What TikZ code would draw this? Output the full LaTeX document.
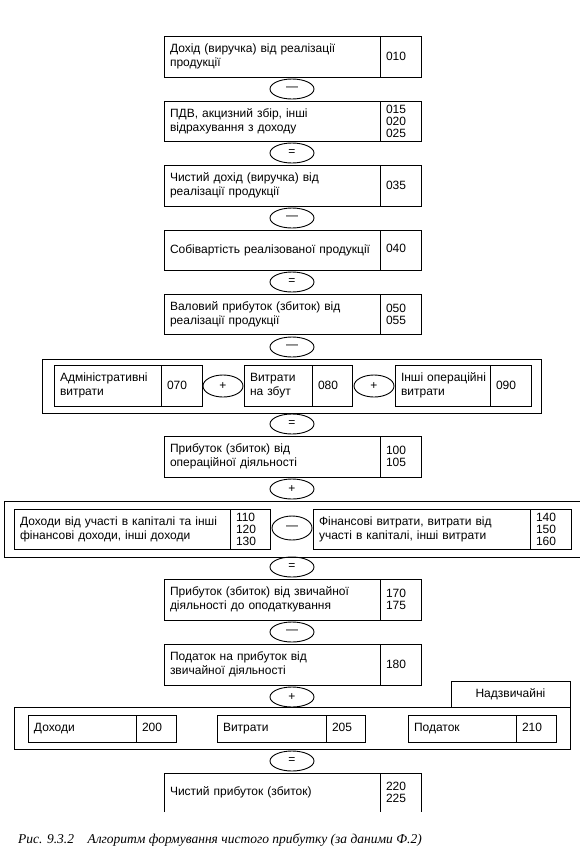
\documentclass[tikz,border=0pt]{standalone}
\usepackage{fontspec}
\setmainfont{Liberation Sans}
\newfontfamily\capfont{Liberation Serif}
\usetikzlibrary{shapes.geometric}
\tikzset{
  cellbox/.style={draw, line width=0.9pt, rectangle, inner xsep=6pt, inner ysep=0pt, outer sep=0pt, align=left, font=\fontsize{12}{14}\selectfont},
  codebox/.style={cellbox, font=\fontsize{12}{12}\selectfont},
  nobox/.style={cellbox, draw=none},
  nocode/.style={codebox, draw=none},
  grp/.style={cellbox},
  op/.style={draw, ellipse, line width=0.9pt, inner sep=0pt, minimum width=44pt, minimum height=20pt, font=\fontsize{12}{13}\selectfont},
  opsmall/.style={op, minimum width=40pt, minimum height=22pt},
  opmid/.style={op, minimum width=40pt, minimum height=24pt},
  side/.style={line width=0.9pt}
}
\newcommand\cell[7]{%
  \pgfmathsetmacro\cw{#5-#3}\pgfmathsetmacro\ch{#6-#4}\pgfmathsetmacro\tw{#5-#3-12}%
  \node[#1, minimum width=\cw pt, minimum height=\ch pt, text width=\tw pt, anchor=north west] (#2) at (#3pt,-#4pt) {#7};}
\newcommand\dph{\vphantom{Д}}
\begin{document}
\begin{tikzpicture}
\useasboundingbox (0,0) rectangle (579pt,-863pt);
% main column
\cell{cellbox}{b1}{164}{36}{380}{77}{Дохід (виручка) від~реалізації\\продукції}
\cell{codebox}{c1}{380}{36}{421}{77}{010}
\node[op] (e1) at (292pt,-89pt) {—};
\cell{cellbox}{b2}{164}{101}{380}{141}{ПДВ, акцизний збір, інші\\відрахування з доходу}
\cell{codebox}{c2}{380}{101}{421}{141}{015\\020\\025}
\node[op] (e2) at (292pt,-153pt) {=};
\cell{cellbox}{b3}{164}{165}{380}{206}{Чистий дохід (виручка) від\\реалізації продукції}
\cell{codebox}{c3}{380}{165}{421}{206}{035}
\node[op] (e3) at (292pt,-218pt) {—};
\cell{cellbox}{b4}{164}{230}{380}{270}{Собівартість~реалізованої~продукції}
\cell{codebox}{c4}{380}{230}{421}{270}{040\dph}
\node[op] (e4) at (292pt,-282pt) {=};
\cell{cellbox}{b5}{164}{294}{380}{334}{Валовий прибуток (збиток) від\\реалізації продукції}
\cell{codebox}{c5}{380}{294}{421}{334}{050\\055}
\node[op] (e5) at (292pt,-347pt) {—};
% group 1
\cell{grp}{g1}{42}{359}{541}{413}{}
\cell{cellbox}{a1}{54}{365}{161}{406}{Адміністративні\\витрати}
\cell{codebox}{a1c}{161}{365}{202}{406}{070}
\node[opsmall] (p1) at (223pt,-386pt) {+};
\cell{cellbox}{a2}{244}{365}{312}{406}{Витрати\\на~збут}
\cell{codebox}{a2c}{312}{365}{352}{406}{080}
\node[opsmall] (p2) at (374pt,-386pt) {+};
\cell{cellbox}{a3}{395}{365}{490}{406}{Інші~операційні\\витрати}
\cell{codebox}{a3c}{490}{365}{531}{406}{090}
\node[op] (e6) at (292pt,-424pt) {=};
\cell{cellbox}{b6}{164}{436}{380}{477}{Прибуток (збиток) від\\операційної діяльності}
\cell{codebox}{c6}{380}{436}{421}{477}{100\\105}
\node[op] (e7) at (292pt,-489pt) {+};
% group 2
\cell{grp}{g2}{4}{501}{582}{557}{}
\cell{cellbox}{f1}{14}{509}{230}{549}{Доходи від участі в капіталі та~інші\\фінансові доходи, інші доходи}
\cell{codebox}{f1c}{230}{509}{270}{549}{110\\120\\130}
\node[opmid] (m1) at (292pt,-528pt) {—};
\cell{cellbox}{f2}{313}{509}{530}{549}{Фінансові витрати, витрати від\\участі в капіталі, інші витрати}
\cell{codebox}{f2c}{530}{509}{571}{549}{140\\150\\160}
\node[op] (e8) at (292pt,-567pt) {=};
\cell{cellbox}{b7}{164}{579}{380}{620}{Прибуток (збиток) від~звичайної\\діяльності до оподаткування}
\cell{codebox}{c7}{380}{579}{421}{620}{170\\175}
\node[op] (e9) at (292pt,-632pt) {—};
\cell{cellbox}{b8}{164}{644}{380}{685}{Податок на прибуток від\\звичайної діяльності}
\cell{codebox}{c8}{380}{644}{421}{685}{180}
\node[op] (e10) at (292pt,-697pt) {+};
% group 3
\node[cellbox, minimum width=119pt, minimum height=26pt, anchor=north west] (nz) at (451pt,-681pt) {Надзвичайні};
\cell{grp}{g3}{14}{707}{570}{749}{}
\cell{cellbox}{x1}{28}{715}{136}{742}{Доходи}
\cell{codebox}{x1c}{136}{715}{176}{742}{200\dph}
\cell{cellbox}{x2}{217}{715}{326}{742}{Витрати\dph}
\cell{codebox}{x2c}{326}{715}{365}{742}{205\dph}
\cell{cellbox}{x3}{408}{715}{516}{742}{Податок}
\cell{codebox}{x3c}{516}{715}{556}{742}{210\dph}
\node[op] (e11) at (292pt,-761pt) {=};
% last, open at bottom
\cell{nobox}{b9}{164}{773}{380}{812}{Чистий прибуток (збиток)}
\cell{nocode}{c9}{380}{773}{421}{812}{220\\225}
\draw[side] (b9.south west) -- (b9.north west) -- (c9.north east) -- (c9.south east);
\draw[side] (c9.north west) -- (c9.south west);
% caption
\node[anchor=west, inner sep=0pt, font=\capfont\itshape\fontsize{13.5}{15}\selectfont] (cap) at (18pt,-840pt) {Рис. 9.3.2\quad Алгоритм формування чистого прибутку (за даними Ф.2)};
\end{tikzpicture}
\end{document}
